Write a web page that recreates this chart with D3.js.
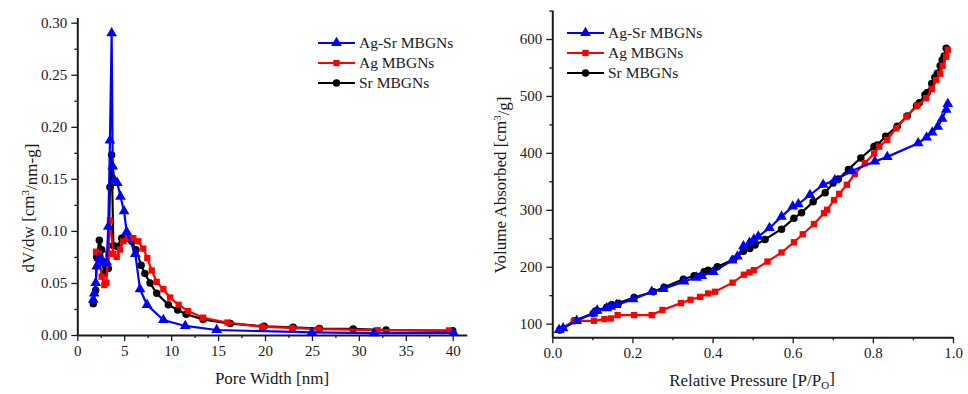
<!DOCTYPE html>
<html>
<head>
<meta charset="utf-8">
<script src="https://cdn.jsdelivr.net/npm/d3@7"></script>
<style>
  body { margin: 0; background: #fff; }
  svg text { font-family: "Liberation Serif", "Times New Roman", serif; fill: #1a1a1a; }
</style>
</head>
<body>
<svg id="chart" width="968" height="394"></svg>
<script>
// ---- data: pore size distribution (left) ----
const seriesNames = ["Ag-Sr MBGNs", "Ag MBGNs", "Sr MBGNs"];

const poreAgSrX = [1.7, 1.8, 1.96, 2.07, 2.3, 2.6, 2.85, 3.13, 3.3, 3.48, 3.66, 3.77, 3.95, 4.26, 4.6, 4.98, 5.26, 6.18, 6.68, 7.43, 9.17, 11.5, 14.85, 25.0, 31.6, 40.1];
const poreAgSrY = [0.034, 0.040, 0.050, 0.066, 0.074, 0.072, 0.069, 0.070, 0.104, 0.187, 0.290, 0.162, 0.149, 0.146, 0.133, 0.119, 0.099, 0.078, 0.044, 0.029, 0.0144, 0.0087, 0.0048, 0.0025, 0.0018, 0.002];

const poreAgX = [2.0, 2.3, 2.6, 2.88, 3.1, 3.3, 3.48, 3.84, 4.2, 4.55, 4.9, 5.4, 5.97, 6.5, 7.03, 7.46, 7.93, 8.46, 9.17, 9.88, 10.8, 11.8, 13.4, 16.0, 19.7, 22.9, 25.7, 32.0, 39.6];
const poreAgY = [0.080, 0.078, 0.056, 0.048, 0.050, 0.078, 0.110, 0.078, 0.075, 0.082, 0.090, 0.093, 0.093, 0.090, 0.083, 0.074, 0.062, 0.051, 0.044, 0.036, 0.029, 0.023, 0.0166, 0.012, 0.0078, 0.0068, 0.0056, 0.0046, 0.0044];

const poreSrX = [1.7, 1.96, 2.07, 2.35, 2.6, 2.85, 3.06, 3.3, 3.48, 3.66, 3.84, 4.26, 4.73, 5.26, 5.8, 6.25, 6.8, 7.2, 7.75, 8.46, 9.7, 10.7, 11.6, 13.4, 16.3, 19.9, 23.0, 25.8, 29.4, 32.9, 40.0];
const poreSrY = [0.030, 0.043, 0.075, 0.091, 0.082, 0.059, 0.066, 0.064, 0.142, 0.173, 0.086, 0.085, 0.093, 0.093, 0.090, 0.082, 0.067, 0.059, 0.050, 0.040, 0.029, 0.024, 0.020, 0.015, 0.011, 0.0083, 0.0074, 0.0062, 0.0058, 0.0048, 0.004];

// ---- data: isotherms (right) ----
const isoAgSrX = [0.017, 0.027, 0.061, 0.102, 0.112, 0.136, 0.146, 0.16, 0.202, 0.248, 0.277, 0.329, 0.36, 0.373, 0.402, 0.449, 0.462, 0.477, 0.492, 0.503, 0.514, 0.542, 0.572, 0.6, 0.614, 0.643, 0.676, 0.705, 0.747, 0.805, 0.836, 0.913, 0.934, 0.948, 0.962, 0.973, 0.983, 0.987];
const isoAgSrY = [89, 92, 105, 118, 123, 127, 130, 133, 143, 156, 161, 174, 181, 184, 191, 211, 218, 236, 242, 248, 253, 268, 288, 306, 310, 326, 344, 352, 368, 385, 393, 417, 427, 436, 446, 460, 476, 486];

const isoAgX = [0.019, 0.055, 0.104, 0.13, 0.146, 0.163, 0.204, 0.248, 0.275, 0.321, 0.345, 0.369, 0.389, 0.406, 0.45, 0.478, 0.492, 0.503, 0.537, 0.572, 0.603, 0.625, 0.653, 0.678, 0.686, 0.703, 0.716, 0.735, 0.755, 0.78, 0.803, 0.816, 0.836, 0.858, 0.884, 0.911, 0.933, 0.947, 0.958, 0.968, 0.974, 0.983, 0.987];
const isoAgY = [89, 105, 105, 108, 109, 115, 115, 115, 124, 136, 142, 147, 153, 156, 172, 186, 190, 194, 209, 225, 243, 257, 275, 294, 300, 317, 328, 344, 363, 382, 399, 411, 423, 443, 464, 483, 496, 512, 528, 539, 553, 569, 581];

const isoSrX = [0.019, 0.055, 0.102, 0.111, 0.136, 0.148, 0.165, 0.204, 0.252, 0.279, 0.327, 0.354, 0.379, 0.389, 0.412, 0.453, 0.477, 0.493, 0.506, 0.531, 0.572, 0.603, 0.622, 0.651, 0.681, 0.701, 0.714, 0.739, 0.77, 0.803, 0.811, 0.832, 0.861, 0.886, 0.909, 0.916, 0.93, 0.936, 0.947, 0.955, 0.961, 0.968, 0.973, 0.978, 0.983];
const isoSrY = [89, 105, 118, 123, 129, 133, 136, 146, 156, 164, 178, 184, 191, 194, 200, 213, 227, 232, 238, 248, 266, 285, 295, 314, 330, 347, 354, 371, 391, 411, 414, 429, 447, 465, 483, 488, 502, 506, 522, 533, 540, 553, 563, 570, 584];

// ---- ticks ----
const leftXTicks = [0, 5, 10, 15, 20, 25, 30, 35, 40];
const leftYTicks = [0, 0.05, 0.10, 0.15, 0.20, 0.25, 0.30];
const rightXTicks = [0, 0.2, 0.4, 0.6, 0.8, 1.0];
const rightYTicks = [100, 200, 300, 400, 500, 600];

const colors = ["#0000ff", "#ff0000", "#000000"];
const shapes = [d3.symbolTriangle, d3.symbolSquare, d3.symbolCircle];
const sizes = [50, 40, 44];

const svg = d3.select("#chart");

function zip(xs, ys) { return xs.map((x, i) => [x, ys[i]]); }

function drawPanel(cfg) {
  const g = svg.append("g");
  const x = d3.scaleLinear().domain(cfg.xDomain).range(cfg.xRange);
  const y = d3.scaleLinear().domain(cfg.yDomain).range(cfg.yRange);

  // minor ticks
  g.append("g")
    .attr("transform", `translate(0,${cfg.yRange[0]})`)
    .call(d3.axisBottom(x).tickValues(cfg.xMinor).tickSize(3).tickSizeOuter(0).tickFormat(""))
    .call(a => a.select(".domain").remove());
  g.append("g")
    .attr("transform", `translate(${cfg.xRange[0]},0)`)
    .call(d3.axisLeft(y).tickValues(cfg.yMinor).tickSize(3).tickSizeOuter(0).tickFormat(""))
    .call(a => a.select(".domain").remove());

  g.append("g")
    .attr("transform", `translate(0,${cfg.yRange[0]})`)
    .call(d3.axisBottom(x).tickValues(cfg.xTicks).tickSize(6).tickSizeOuter(0).tickPadding(4).tickFormat(cfg.xFmt));
  g.append("g")
    .attr("transform", `translate(${cfg.xRange[0]},0)`)
    .call(d3.axisLeft(y).tickValues(cfg.yTicks).tickSize(6).tickSizeOuter(0).tickPadding(4).tickFormat(cfg.yFmt));

  g.selectAll(".tick line").attr("stroke", "#1a1a1a").attr("stroke-width", 1.3);
  g.selectAll(".domain").attr("stroke", "#1a1a1a").attr("stroke-width", 2);
  g.selectAll(".tick text").style("font-size", "15px").attr("fill", "#1a1a1a");

  const line = d3.line().x(d => x(d[0])).y(d => y(d[1]));

  // draw in reverse so blue ends on top
  [2, 1, 0].forEach(i => {
    const pts = zip(cfg.xs[i], cfg.ys[i]);
    g.append("path").datum(pts)
      .attr("fill", "none").attr("stroke", colors[i]).attr("stroke-width", 2.2)
      .attr("d", line);
    g.selectAll(null).data(pts).enter().append("path")
      .attr("transform", d => `translate(${x(d[0])},${y(d[1])})`)
      .attr("d", d3.symbol().type(shapes[i]).size(sizes[i]))
      .attr("fill", colors[i]);
  });

  // legend
  seriesNames.forEach((name, i) => {
    const ly = cfg.legend[1] + i * 20;
    const lx = cfg.legend[0];
    g.append("line").attr("x1", lx).attr("x2", lx + 37).attr("y1", ly).attr("y2", ly)
      .attr("stroke", colors[i]).attr("stroke-width", 2.2);
    g.append("path").attr("transform", `translate(${lx + 18.5},${ly})`)
      .attr("d", d3.symbol().type(shapes[i]).size(sizes[i])).attr("fill", colors[i]);
    g.append("text").attr("x", lx + 41).attr("y", ly).attr("dy", "0.35em")
      .style("font-size", "15.5px").text(name);
  });

  return g;
}

drawPanel({
  xDomain: [0, 41.5], xRange: [77.3, 466.8],
  yDomain: [0, 0.305], yRange: [335, 17.5],
  xTicks: leftXTicks, xMinor: d3.range(2.5, 41, 5),
  yTicks: leftYTicks, yMinor: d3.range(0.025, 0.3, 0.05),
  xFmt: d3.format("d"), yFmt: d3.format(".2f"),
  xs: [poreAgSrX, poreAgX, poreSrX], ys: [poreAgSrY, poreAgY, poreSrY],
  legend: [318, 43]
});

drawPanel({
  xDomain: [0, 1], xRange: [552.3, 953],
  yDomain: [76, 651], yRange: [337.3, 10],
  xTicks: rightXTicks, xMinor: d3.range(0.1, 1, 0.2),
  yTicks: rightYTicks, yMinor: d3.range(150, 651, 100),
  xFmt: d3.format(".1f"), yFmt: d3.format("d"),
  xs: [isoAgSrX, isoAgX, isoSrX], ys: [isoAgSrY, isoAgY, isoSrY],
  legend: [567, 33]
});

// axis titles
const leftY = svg.append("text").attr("transform", "translate(34,208) rotate(-90)")
  .attr("text-anchor", "middle").style("font-size", "17px");
leftY.append("tspan").text("dV/dw [cm");
leftY.append("tspan").attr("dy", "-0.45em").style("font-size", "11px").text("3");
leftY.append("tspan").attr("dy", "0.45em").text("/nm-g]");

svg.append("text").attr("x", 272).attr("y", 384).attr("text-anchor", "middle")
  .style("font-size", "17px").text("Pore Width [nm]");

const rightY = svg.append("text").attr("transform", "translate(506,185) rotate(-90)")
  .attr("text-anchor", "middle").style("font-size", "17px");
rightY.append("tspan").text("Volume Absorbed [cm");
rightY.append("tspan").attr("dy", "-0.45em").style("font-size", "11px").text("3");
rightY.append("tspan").attr("dy", "0.45em").text("/g]");

const rightX = svg.append("text").attr("x", 752).attr("y", 386).attr("text-anchor", "middle")
  .style("font-size", "17px");
rightX.append("tspan").text("Relative Pressure [P/P");
rightX.append("tspan").attr("dy", "0.3em").style("font-size", "11px").text("O");
rightX.append("tspan").attr("dy", "-0.3em").text("]");
</script>
</body>
</html>
